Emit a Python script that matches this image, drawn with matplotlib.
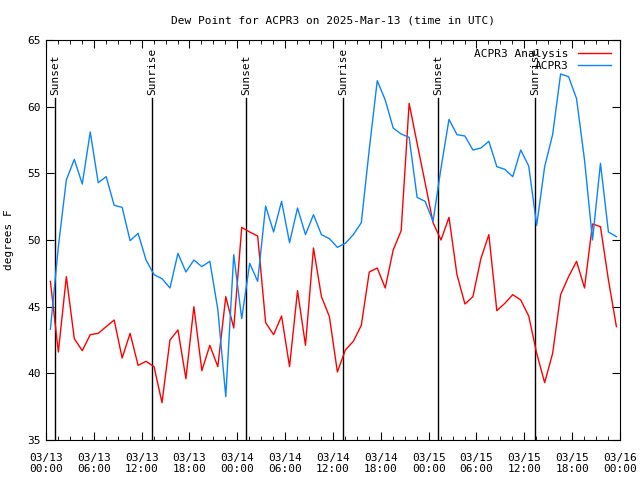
import matplotlib
matplotlib.use('Agg')
import matplotlib.pyplot as plt
import matplotlib.dates as mdates
from matplotlib.ticker import MultipleLocator
import numpy as np
import pandas as pd

# hourly samples (UTC), starting 03/13 00:33
times = pd.date_range('2025-03-13 00:33', periods=72, freq='h')

analysis = [46.9, 41.6, 47.25, 42.6, 41.7, 42.9, 43.0, 43.5, 44.0, 41.15,
            43.0, 40.6, 40.9, 40.5, 37.8, 42.5, 43.25, 39.6, 45.0, 40.2,
            42.1, 40.5, 45.75, 43.4, 50.95, 50.6, 50.3, 43.8, 42.9, 44.3,
            40.5, 46.2, 42.1, 49.4, 45.75, 44.25, 40.1, 41.75, 42.4, 43.6,
            47.6, 47.9, 46.4, 49.25, 50.7, 60.25, 57.25, 54.3, 51.3, 50.0,
            51.7, 47.4, 45.2, 45.75, 48.6, 50.4, 44.7, 45.25, 45.9, 45.5,
            44.3, 41.5, 39.3, 41.5, 45.9, 47.25, 48.4, 46.4, 51.2, 51.0,
            47.0, 43.5]

observed = [43.3, 49.5, 54.5, 56.05, 54.2, 58.1, 54.3, 54.75, 52.6, 52.45,
            49.95, 50.5, 48.5, 47.4, 47.1, 46.4, 49.0, 47.6, 48.5, 48.0,
            48.4, 44.8, 38.25, 48.9, 44.1, 48.25, 46.9, 52.55, 50.6, 52.9,
            49.8, 52.4, 50.4, 51.9, 50.4, 50.1, 49.45, 49.75, 50.4, 51.3,
            56.8, 61.95, 60.5, 58.4, 57.95, 57.7, 53.2, 52.9, 51.4, 55.4,
            59.05, 57.9, 57.8, 56.75, 56.9, 57.4, 55.5, 55.3, 54.75, 56.75,
            55.55, 51.1, 55.5, 57.9, 62.45, 62.25, 60.6, 56.0, 50.0, 55.75,
            50.6, 50.25]

sun_events = pd.to_datetime(['2025-03-13 01:08', '2025-03-13 13:18',
                             '2025-03-14 01:05', '2025-03-14 13:15',
                             '2025-03-15 01:10', '2025-03-15 13:20'])
sun_labels = ['Sunset', 'Sunrise', 'Sunset', 'Sunrise', 'Sunset', 'Sunrise']

plt.rcParams['font.family'] = ['DejaVu Sans Mono']
plt.rcParams['font.size'] = 8

fig = plt.figure(figsize=(6.4, 4.8), dpi=100)
ax = fig.add_axes([46 / 640, 40 / 480, 574 / 640, 400 / 480])

for t, lab in zip(sun_events, sun_labels):
    ax.axvline(t, ymin=0, ymax=(60.65 - 35) / 30, color='black', linewidth=1)
    ax.text(t, 60.9, lab, rotation=90, ha='center', va='bottom', fontsize=8)

ax.plot(times, analysis, color='#ff0000', linewidth=1, label='ACPR3 Analysis')
ax.plot(times, observed, color='#0a84ff', linewidth=1, label='ACPR3')

ax.set_xlim(pd.Timestamp('2025-03-13 00:00'), pd.Timestamp('2025-03-16 00:00'))
ax.set_ylim(35, 65)
ax.set_yticks(np.arange(35, 66, 5))
ax.xaxis.set_major_locator(mdates.HourLocator(byhour=[0, 6, 12, 18]))
ax.xaxis.set_minor_locator(MultipleLocator(1.5 / 24))
ax.xaxis.set_major_formatter(mdates.DateFormatter('%m/%d\n%H:%M'))
ax.tick_params(which='both', direction='in', top=True, right=True)
ax.tick_params(which='major', length=6, labelsize=8)
ax.tick_params(axis='x', which='major', pad=9)
ax.tick_params(which='minor', length=3)
ax.set_ylabel('degrees F', labelpad=10)
ax.set_title('Dew Point for ACPR3 on 2025-Mar-13 (time in UTC)', fontsize=8, pad=12)

ax.legend(loc='upper right', frameon=False, markerfirst=False, handlelength=3.0,
          handletextpad=0.8, borderaxespad=0.4, labelspacing=0.15, fontsize=8)

fig.savefig('out.png', dpi=100)
